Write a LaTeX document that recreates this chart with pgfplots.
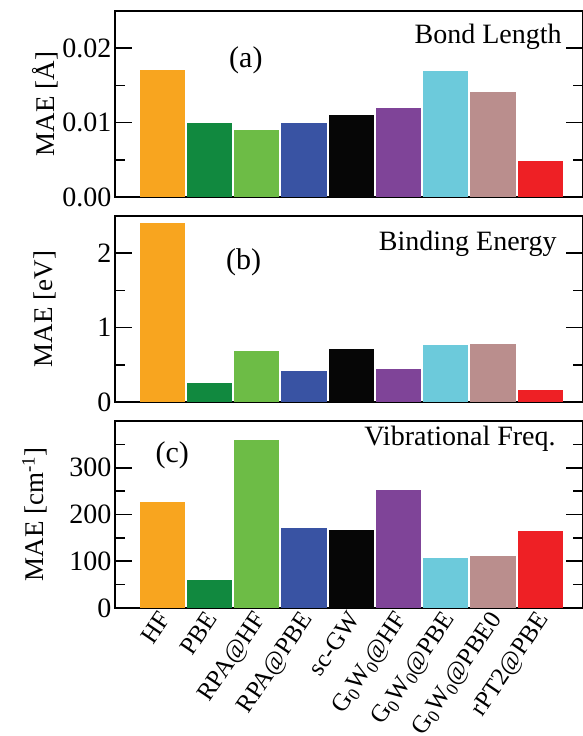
\documentclass[border=0pt]{standalone}
\usepackage{fontspec}
\setmainfont{Liberation Serif}
\usepackage{pgfplots}
\pgfplotsset{compat=1.18}
\definecolor{cA}{HTML}{F8A51F}
\definecolor{cB}{HTML}{11893F}
\definecolor{cC}{HTML}{6DBC46}
\definecolor{cD}{HTML}{3953A3}
\definecolor{cE}{HTML}{060606}
\definecolor{cF}{HTML}{7F4498}
\definecolor{cG}{HTML}{6CCADB}
\definecolor{cH}{HTML}{BA8E8D}
\definecolor{cI}{HTML}{EE2025}
\newcommand{\tickfont}{\fontsize{28}{32}\selectfont}
\tikzset{
  inlabel/.style={font=\fontsize{28}{30}\selectfont, anchor=base east},
  plabel/.style={font=\fontsize{30}{32}\selectfont, anchor=center},
}
\pgfplotsset{
  panel/.style={
    scale only axis, width=467.5pt, xmin=0, xmax=9.894, ymin=0,
    anchor=south west,
    scaled y ticks=false,
    axis line style={line width=1.6pt},
    every tick/.style={line width=1.6pt, black},
    major tick length=17pt, minor tick length=10pt,
    tick align=inside,
    xtick={1,...,9}, xticklabels={}, xtick style={draw=none},
    yticklabel style={font=\tickfont},
    ylabel style={font=\fontsize{27}{30}\selectfont, anchor=center},
    every axis plot/.append style={ybar, bar width=0.96, bar shift=0pt, draw=none},
    clip=false,
  },
}
\begin{document}
\begin{tikzpicture}
% (a) Bond length
\begin{axis}[panel, at={(115pt,539pt)}, height=186pt, ymax=0.025,
  ytick={0,0.01,0.02}, yticklabels={0.00,0.01,0.02}, minor ytick={0.005,0.015},
  ylabel={MAE [Å]}, ylabel style={at={(axis description cs:-0.150,0.5)}}]
\addplot[fill=cA] coordinates {(1,0.0171)};
\addplot[fill=cB] coordinates {(2,0.0100)};
\addplot[fill=cC] coordinates {(3,0.0090)};
\addplot[fill=cD] coordinates {(4,0.0100)};
\addplot[fill=cE] coordinates {(5,0.0110)};
\addplot[fill=cF] coordinates {(6,0.0120)};
\addplot[fill=cG] coordinates {(7,0.0170)};
\addplot[fill=cH] coordinates {(8,0.0141)};
\addplot[fill=cI] coordinates {(9,0.0049)};
\node[plabel] at (axis cs:2.77,0.0184) {(a)};
\node[inlabel] at (axis description cs:0.963,0.823) {Bond Length};
\end{axis}
% (b) Binding energy
\begin{axis}[panel, at={(115pt,334pt)}, height=186pt, ymax=2.5,
  ytick={0,1,2}, yticklabels={0,1,2}, minor ytick={0.5,1.5},
  ylabel={MAE [eV]}, ylabel style={at={(axis description cs:-0.150,0.5)}}]
\addplot[fill=cA] coordinates {(1,2.41)};
\addplot[fill=cB] coordinates {(2,0.254)};
\addplot[fill=cC] coordinates {(3,0.69)};
\addplot[fill=cD] coordinates {(4,0.415)};
\addplot[fill=cE] coordinates {(5,0.714)};
\addplot[fill=cF] coordinates {(6,0.45)};
\addplot[fill=cG] coordinates {(7,0.763)};
\addplot[fill=cH] coordinates {(8,0.78)};
\addplot[fill=cI] coordinates {(9,0.165)};
\node[plabel] at (axis cs:2.72,1.88) {(b)};
\node[inlabel] at (axis description cs:0.952,0.817) {Binding Energy};
\end{axis}
% (c) Vibrational frequency
\begin{axis}[panel, at={(115pt,128pt)}, height=187pt, ymax=400,
  ytick={0,100,200,300}, yticklabels={0,100,200,300}, minor ytick={50,150,250,350},
  ylabel={MAE [cm\textsuperscript{-1}]}, ylabel style={at={(axis description cs:-0.172,0.5)}},
  xticklabels={HF,PBE,RPA@HF,RPA@PBE,sc-GW,G\textsubscript{0}W\textsubscript{0}@HF,G\textsubscript{0}W\textsubscript{0}@PBE,G\textsubscript{0}W\textsubscript{0}@PBE0,rPT2@PBE},
  xticklabel style={font=\fontsize{25}{28}\selectfont, xshift=-5pt, yshift=0pt, rotate=56, anchor=north east, inner sep=1pt}]
\addplot[fill=cA] coordinates {(1,226)};
\addplot[fill=cB] coordinates {(2,59)};
\addplot[fill=cC] coordinates {(3,360)};
\addplot[fill=cD] coordinates {(4,171)};
\addplot[fill=cE] coordinates {(5,166)};
\addplot[fill=cF] coordinates {(6,253)};
\addplot[fill=cG] coordinates {(7,106)};
\addplot[fill=cH] coordinates {(8,111)};
\addplot[fill=cI] coordinates {(9,164)};
\node[plabel] at (axis cs:1.21,327) {(c)};
\node[inlabel] at (axis description cs:0.950,0.87) {Vibrational Freq.};
\end{axis}
\pgfresetboundingbox
\path (0,0) rectangle (582pt,736pt);
\end{tikzpicture}
\end{document}
